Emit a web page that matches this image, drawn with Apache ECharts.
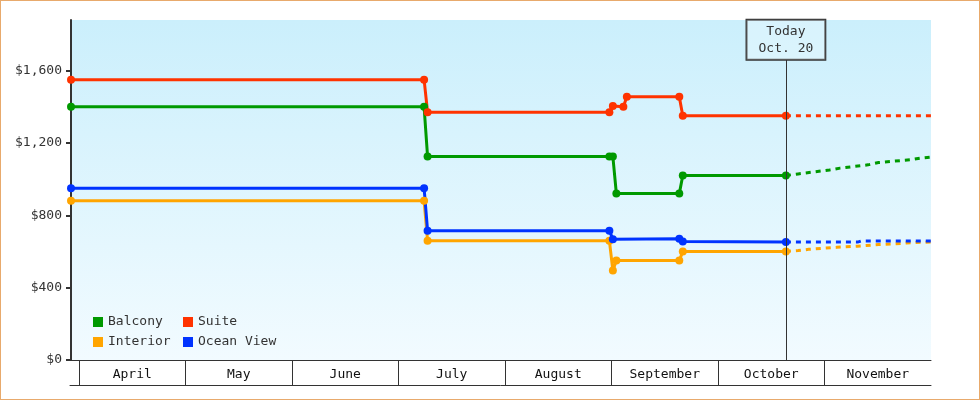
<!DOCTYPE html>
<html>
<head>
<meta charset="utf-8">
<script src="https://cdn.jsdelivr.net/npm/echarts@6/dist/echarts.min.js"></script>
<style>
  body { margin: 0; background: #fff; }
  #chart { position: absolute; left: 0; top: 0; width: 980px; height: 400px; }
  #frame { position: absolute; left: 0; top: 0; width: 978px; height: 398px;
           border: 1px solid #e8aa6c; pointer-events: none; }
</style>
</head>
<body>
<div id="chart"></div>
<div id="frame"></div>
<script>
// month boxes under the plot
const months = ["April", "May", "June", "July", "August", "September", "October", "November"];
const yTicks = [0, 400, 800, 1200, 1600];

const startDate = "2010-03-30";
const endDate = "2010-12-01";
const today = "2010-10-20 12:00";
const todayLabel = "Today\nOct. 20";

// price history [date, price]
const balcony = [
  ["2010-03-30", 1400], ["2010-07-09", 1400], ["2010-07-10", 1125],
  ["2010-08-31", 1125], ["2010-09-01", 1125], ["2010-09-02", 920],
  ["2010-09-20", 920], ["2010-09-21", 1020], [today, 1020]
];
const interior = [
  ["2010-03-30", 880], ["2010-07-09", 880], ["2010-07-10", 660],
  ["2010-08-31", 660], ["2010-09-01", 495], ["2010-09-02", 550],
  ["2010-09-20", 550], ["2010-09-21", 600], [today, 600]
];
const suite = [
  ["2010-03-30", 1550], ["2010-07-09", 1550], ["2010-07-10", 1370],
  ["2010-08-31", 1370], ["2010-09-01", 1405], ["2010-09-04", 1400],
  ["2010-09-05", 1455], ["2010-09-20", 1455], ["2010-09-21", 1350],
  [today, 1350]
];
const oceanView = [
  ["2010-03-30", 950], ["2010-07-09", 950], ["2010-07-10", 715],
  ["2010-08-31", 715], ["2010-09-01", 668], ["2010-09-20", 670],
  ["2010-09-21", 655], [today, 652]
];

// forecast after today (dotted)
const balconyForecast = [
  [today, 1020], ["2010-10-24", 1029], ["2010-11-02", 1051], ["2010-11-05", 1061],
  ["2010-11-13", 1079], ["2010-11-16", 1092], ["2010-11-25", 1107],
  ["2010-11-28", 1116], [endDate, 1122]
];
const interiorForecast = [
  [today, 600], ["2010-10-24", 605], ["2010-10-27", 612], ["2010-11-04", 623],
  ["2010-11-10", 629], ["2010-11-16", 638], ["2010-11-21", 643],
  ["2010-11-24", 647], [endDate, 653]
];
const suiteForecast = [[today, 1350], [endDate, 1350]];
const oceanViewForecast = [
  [today, 652], ["2010-11-10", 652], ["2010-11-11", 658], [endDate, 658]
];

const colors = {
  Balcony: "#009900",
  Interior: "#ffa500",
  Suite: "#ff3300",
  "Ocean View": "#0033ff"
};

const font = "DejaVu Sans Mono";
const ts = (s) => echarts.time.parse(s).getTime();
const toPoints = (arr) => arr.map((p) => [ts(p[0]), p[1]]);

function history(name, data) {
  return {
    name: name,
    type: "line",
    data: toPoints(data),
    symbol: "circle",
    symbolSize: 8,
    itemStyle: { color: colors[name] },
    lineStyle: { color: colors[name], width: 3 },
    xAxisIndex: 0,
    yAxisIndex: 0
  };
}

function forecast(name, data) {
  return {
    name: name,
    type: "line",
    data: toPoints(data),
    showSymbol: false,
    silent: true,
    itemStyle: { color: colors[name] },
    lineStyle: { color: colors[name], width: 3, type: [5, 5] },
    xAxisIndex: 0,
    yAxisIndex: 0
  };
}

const series = [
  history("Balcony", balcony),
  history("Interior", interior),
  history("Suite", suite),
  history("Ocean View", oceanView),
  forecast("Balcony", balconyForecast),
  forecast("Interior", interiorForecast),
  forecast("Suite", suiteForecast),
  forecast("Ocean View", oceanViewForecast)
];

// "today" marker line with its box
series[0].markLine = {
  silent: true,
  symbol: "none",
  animation: false,
  lineStyle: { color: "#333", width: 1, type: "solid" },
  label: {
    show: true,
    position: "end",
    distance: 0,
    formatter: todayLabel,
    color: "#333",
    fontFamily: font,
    fontSize: 13,
    lineHeight: 17,
    padding: [3, 12],
    borderColor: "#333",
    borderWidth: 1,
    backgroundColor: "rgba(255,255,255,0.25)"
  },
  emphasis: { disabled: true },
  data: [[{ coord: [ts(today), 0] }, { coord: [ts(today), 1660] }]]
};

const legendStyle = {
  orient: "vertical",
  top: 315,
  icon: "rect",
  itemWidth: 10,
  itemHeight: 10,
  itemGap: 6,
  padding: 0,
  selectedMode: false,
  textStyle: { fontFamily: font, fontSize: 13, color: "#333", lineHeight: 14 }
};

const chart = echarts.init(document.getElementById("chart"));
chart.setOption({
  animation: false,
  backgroundColor: "#fff",
  legend: [
    Object.assign({ data: ["Balcony", "Interior"], left: 93 }, legendStyle),
    Object.assign({ data: ["Suite", "Ocean View"], left: 183 }, legendStyle)
  ],
  grid: [
    {
      left: 71, right: 49, top: 20, bottom: 40,
      outerBoundsMode: "none",
      show: true,
      borderWidth: 0,
      backgroundColor: new echarts.graphic.LinearGradient(0, 0, 0, 1, [
        { offset: 0, color: "#cbeffc" },
        { offset: 1, color: "#f2fbff" }
      ])
    },
    // month band
    { left: 79, right: 49, top: 360, bottom: 15, outerBoundsMode: "none" },
    // bottom rule of the band
    { left: 70, right: 49, top: 360, bottom: 15, outerBoundsMode: "none" }
  ],
  xAxis: [
    {
      type: "time",
      gridIndex: 0,
      min: ts(startDate),
      max: ts(endDate),
      position: "bottom",
      axisLine: { show: true, lineStyle: { color: "#333", width: 1 } },
      axisTick: { show: false },
      axisLabel: { show: false },
      splitLine: { show: false }
    },
    {
      type: "category",
      gridIndex: 1,
      data: months,
      position: "bottom",
      boundaryGap: true,
      axisLine: { show: false },
      axisTick: { show: false },
      axisLabel: { margin: -17, color: "#111", fontFamily: font, fontSize: 13 },
      splitLine: {
        show: true,
        showMinLine: true,
        showMaxLine: false,
        lineStyle: { color: "#333", width: 1 }
      }
    },
    {
      type: "value",
      gridIndex: 2,
      position: "bottom",
      axisLine: { show: true, lineStyle: { color: "#333", width: 1 } },
      axisTick: { show: false },
      axisLabel: { show: false },
      splitLine: { show: false }
    }
  ],
  yAxis: [
    {
      type: "value",
      gridIndex: 0,
      min: 0,
      max: 1880,
      axisLine: { show: true, lineStyle: { color: "#333", width: 2 } },
      axisTick: { show: true, length: 5, lineStyle: { color: "#333", width: 2 }, customValues: yTicks },
      axisLabel: {
        margin: 9,
        color: "#333",
        fontFamily: font,
        fontSize: 13,
        customValues: yTicks,
        formatter: (v) => "$" + v.toLocaleString("en-US")
      },
      splitLine: { show: false }
    },
    { type: "value", gridIndex: 1, show: false },
    { type: "value", gridIndex: 2, show: false }
  ],
  series: series
});
</script>
</body>
</html>
